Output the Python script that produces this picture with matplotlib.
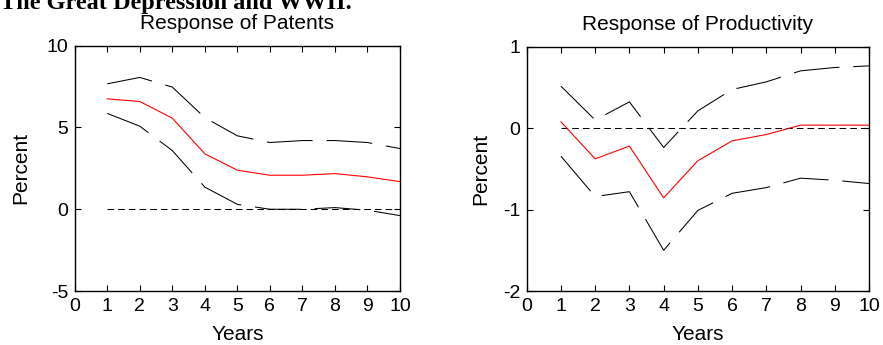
import matplotlib.pyplot as plt

plt.rcParams['font.family'] = ['Liberation Sans', 'DejaVu Sans']
plt.rcParams['lines.scale_dashes'] = False
plt.rcParams['axes.unicode_minus'] = False

# horizons (years)
years = [1, 2, 3, 4, 5, 6, 7, 8, 9, 10]

# response of patents (percent)
pat_mid = [6.75, 6.59, 5.57, 3.39, 2.39, 2.08, 2.08, 2.18, 1.98, 1.69]
pat_up = [7.67, 8.06, 7.47, 5.6, 4.49, 4.08, 4.2, 4.2, 4.08, 3.71]
pat_lo = [5.86, 5.08, 3.59, 1.35, 0.3, 0.0, 0.0, 0.1, -0.06, -0.39]

# response of productivity (percent)
prod_mid = [0.078, -0.377, -0.22, -0.856, -0.40, -0.156, -0.078, 0.037, 0.037, 0.037]
prod_up = [0.516, 0.10, 0.323, -0.237, 0.213, 0.475, 0.569, 0.704, 0.745, 0.765]
prod_lo = [-0.344, -0.84, -0.78, -1.5, -1.01, -0.80, -0.73, -0.614, -0.64, -0.68]

xticks = list(range(0, 11))


def panneau(ax, mid, up, lo, titre, ylim, yticks, lpad):
    ax.plot(years, [0] * len(years), color='black', lw=0.75, dashes=(4.8, 2.9))
    ax.plot(years, up, color='black', lw=0.75, dashes=(33, 10))
    ax.plot(years, lo, color='black', lw=0.75, dashes=(33, 10))
    ax.plot(years, mid, color='red', lw=0.8)
    ax.set_xlim(0, 10)
    ax.set_ylim(*ylim)
    ax.set_xticks(xticks)
    ax.set_yticks(yticks)
    ax.tick_params(direction='in', top=True, right=True, length=4,
                   width=0.8, labelsize=14)
    ax.tick_params(axis='y', pad=4.5)
    ax.tick_params(axis='x', pad=5)
    for s in ax.spines.values():
        s.set_linewidth(1.0)
    ax.set_title(titre, fontsize=15, pad=12)
    ax.set_xlabel("Years", fontsize=15, labelpad=7)
    ax.set_ylabel("Percent", fontsize=15, labelpad=lpad)


fig = plt.figure(figsize=(8.83, 3.45), dpi=100)
ax1 = fig.add_axes([0.0846, 0.1565, 0.3684, 0.711])
ax2 = fig.add_axes([0.5965, 0.1565, 0.3877, 0.708])

panneau(ax1, pat_mid, pat_up, pat_lo, "Response of Patents", (-5, 10), [-5, 0, 5, 10], 12)
panneau(ax2, prod_mid, prod_up, prod_lo, "Response of Productivity", (-2, 1), [-2, -1, 0, 1], 9)

fig.text(0.0, 1 - 9 / 345, "The Great Depression and WWII.", family='Liberation Serif',
         weight='bold', fontsize=17.5, va='baseline', ha='left')

fig.savefig("out.png", dpi=100)
